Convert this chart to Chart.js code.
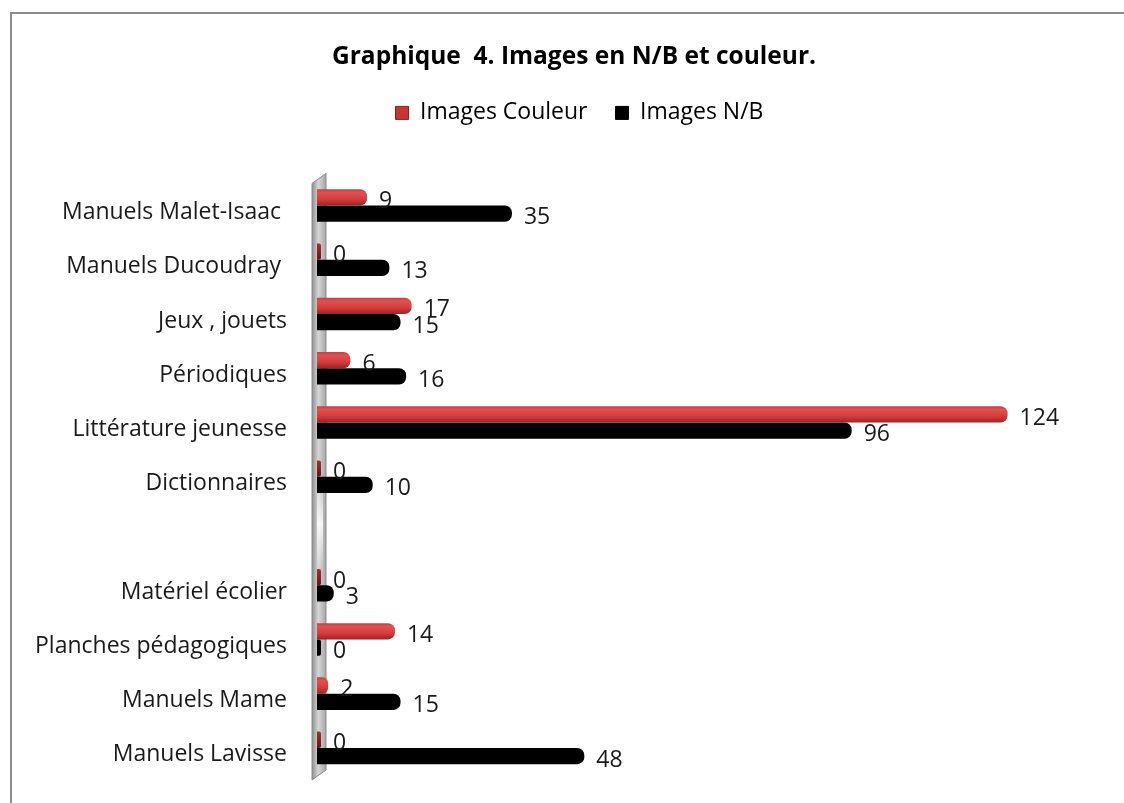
<!DOCTYPE html>
<html>
<head>
<meta charset="utf-8">
<script src="https://cdn.jsdelivr.net/npm/chart.js@4"></script>
<style>
  html, body { margin: 0; padding: 0; background: #fff; overflow: hidden; }
  #cadre {
    position: absolute; left: 10px; top: 12px;
    width: 1128px; height: 810px;
    border: 2px solid #8c8c8c; box-sizing: border-box;
  }
  #graphique { position: absolute; left: 0; top: 0; }
</style>
</head>
<body>
<div id="cadre"></div>
<canvas id="graphique" width="1124" height="803"></canvas>
<script>
// categories du haut vers le bas, la ligne vide sépare les deux groupes
const categories = [
  "Manuels Malet-Isaac ", "Manuels Ducoudray ", "Jeux , jouets", "Périodiques",
  "Littérature jeunesse", "Dictionnaires", "",
  "Matériel écolier", "Planches pédagogiques", "Manuels Mame", "Manuels Lavisse"
];
const imagesCouleur = [9, 0, 17, 6, 124, 0, null, 0, 14, 2, 0];
const imagesNB = [35, 13, 15, 16, 96, 10, null, 3, 0, 15, 48];

const police = "'Open Sans', sans-serif";

// dégradé rouge pour donner l'effet cylindre
const effetCylindre = {
  id: "effetCylindre",
  beforeDatasetDraw(chart, args) {
    if (args.index !== 0) return;
    const ctx = chart.ctx;
    args.meta.data.forEach((barre, i) => {
      const h = barre.height;
      const g = ctx.createLinearGradient(0, barre.y - h / 2, 0, barre.y + h / 2);
      if (imagesCouleur[i] === 0) {
        g.addColorStop(0, "#a83030");
        g.addColorStop(1, "#6e1212");
      } else {
        g.addColorStop(0, "#c24040");
        g.addColorStop(0.2, "#e25050");
        g.addColorStop(0.6, "#d63e3e");
        g.addColorStop(1, "#9c2424");
      }
      barre.options = Object.assign({}, barre.options, { backgroundColor: g });
    });
  },
  // étiquettes dessinées juste après leur série, la série suivante passe dessus
  afterDatasetDraw(chart, args) {
    const ctx = chart.ctx;
    const valeurs = args.index === 0 ? imagesCouleur : imagesNB;
    ctx.save();
    ctx.font = "23px " + police;
    ctx.fillStyle = "#1a1a1a";
    ctx.textAlign = "left";
    ctx.textBaseline = "middle";
    args.meta.data.forEach((barre, i) => {
      if (valeurs[i] === null) return;
      ctx.fillText(String(valeurs[i]), barre.x + 12, barre.y + 4);
    });
    ctx.restore();
  }
};

// paroi grise en perspective derrière le départ des barres
const paroi = {
  id: "paroi",
  beforeDatasetsDraw(chart) {
    const { ctx, chartArea: a } = chart;
    const x0 = a.left - 5, x1 = a.left + 9;
    ctx.save();
    ctx.beginPath();
    ctx.moveTo(x0, a.top + 5);
    ctx.lineTo(x1, a.top - 5);
    ctx.lineTo(x1, a.bottom - 5);
    ctx.lineTo(x0, a.bottom + 5);
    ctx.closePath();
    const g = ctx.createLinearGradient(x0, 0, x1, 0);
    g.addColorStop(0, "#8f8f8f");
    g.addColorStop(0.45, "#d6d6d6");
    g.addColorStop(1, "#a6a6a6");
    ctx.fillStyle = g;
    ctx.fill();
    // reflet clair vers le bas du mur
    const h = a.bottom - a.top;
    const reflet = ctx.createLinearGradient(0, a.top, 0, a.bottom);
    reflet.addColorStop(0, "rgba(255,255,255,0)");
    reflet.addColorStop(0.5, "rgba(255,255,255,0)");
    reflet.addColorStop(0.58, "rgba(255,255,255,0.85)");
    reflet.addColorStop(0.66, "rgba(255,255,255,0)");
    reflet.addColorStop(1, "rgba(255,255,255,0)");
    ctx.fillStyle = reflet;
    ctx.fillRect(a.left, a.top, 6, h);
    ctx.strokeStyle = "#8a8a8a";
    ctx.lineWidth = 1;
    ctx.stroke();
    ctx.restore();
  }
};

// espace sous la légende, et titre et légende centrés sur le cadre
const entete = {
  id: "entete",
  beforeInit(chart) {
    const fit = chart.legend.fit;
    chart.legend.fit = function () {
      fit.call(this);
      this.height += 44;
    };
  },
  afterLayout(chart) {
    chart.titleBlock.left += 107;
    chart.legend.left += 118;
  }
};

const ctx = document.getElementById("graphique").getContext("2d");

const graphique = new Chart(ctx, {
  type: "bar",
  data: {
    labels: categories,
    datasets: [
      {
        label: "Images Couleur",
        data: imagesCouleur,
        backgroundColor: "#d23c3c",
        borderRadius: 7,
        minBarLength: 4
      },
      {
        label: "Images N/B",
        data: imagesNB,
        backgroundColor: "#000000",
        borderRadius: 7,
        minBarLength: 4
      }
    ]
  },
  options: {
    indexAxis: "y",
    responsive: false,
    animation: false,
    categoryPercentage: 0.6,
    barPercentage: 1,
    layout: { padding: { top: 0, right: 83, bottom: 28, left: 0 } },
    scales: {
      x: { display: false, min: 0, max: 130 },
      y: {
        grid: { display: false },
        border: { display: false },
        ticks: {
          padding: 22,
          labelOffset: 7,
          color: "#1a1a1a",
          font: { family: police, size: 23 }
        },
        afterFit(scale) {
          scale.width = 317;
          scale.paddingTop = 0;
          scale.paddingBottom = 0;
        }
      }
    },
    plugins: {
      title: {
        display: true,
        text: "Graphique  4. Images en N/B et couleur.",
        color: "#000",
        font: { family: police, size: 24.5, weight: "bold" },
        padding: { top: 42, bottom: 2 }
      },
      legend: {
        labels: {
          color: "#1a1a1a",
          font: { family: police, size: 23 },
          boxWidth: 13,
          boxHeight: 13,
          padding: 28,
          generateLabels(chart) {
            return chart.data.datasets.map((d, i) => ({
              text: d.label,
              fillStyle: i === 0 ? "#c83434" : "#000",
              strokeStyle: i === 0 ? "#8e1c1c" : "#000",
              lineWidth: 1,
              datasetIndex: i
            }));
          }
        }
      },
      tooltip: { enabled: false }
    }
  },
  plugins: [effetCylindre, paroi, entete]
});
</script>
</body>
</html>
